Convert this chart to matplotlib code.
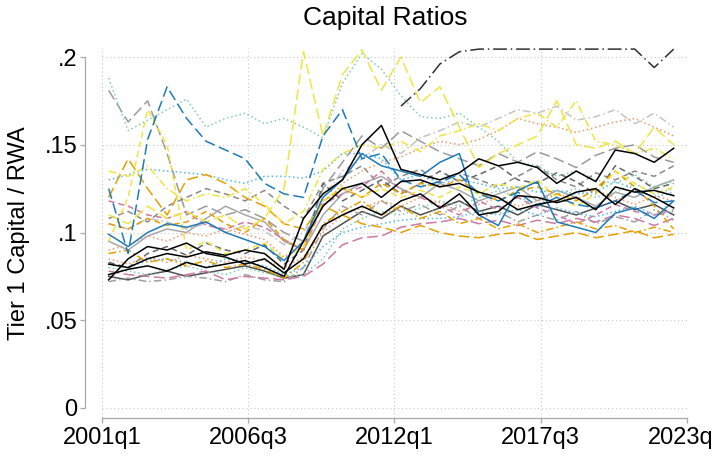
import matplotlib

matplotlib.use("Agg")  # headless backend: render straight to files

import matplotlib.pyplot as plt  # noqa: E402
import numpy as np  # noqa: E402

plt.rcParams["font.family"] = ["Liberation Sans", "DejaVu Sans"]

# quarter index (0 = 2001q1); each bank sampled about every third quarter,
# from 2001q2 to 2022q3
quarters = np.linspace(1, 86, 30)
x_ticks = [0, 22, 44, 66, 88]
x_tick_labels = ["2001q1", "2006q3", "2012q1", "2017q3", "2023q1"]
y_ticks = [0, 0.05, 0.10, 0.15, 0.20]
y_tick_labels = ["0", ".05", ".1", ".15", ".2"]

nan = np.nan

# Tier 1 capital / RWA per bank, in percent
black_a = [8.2, 8.0, 8.5, 8.8, 8.6, 8.9, 8.7, 9.0, 8.8, 7.9,
           10.8, 12.2, 13.0, 15.0, 16.1, 13.6, 13.3, 13.0, 13.4, 14.2,
           13.8, 14.0, 13.7, 12.8, 13.5, 12.9, 14.7, 14.5, 14.0, 14.8]
black_b = [7.6, 7.9, 8.1, 7.8, 8.3, 8.0, 8.2, 8.4, 8.0, 7.5,
           9.5, 11.5, 12.5, 12.8, 12.0, 12.9, 13.0, 12.6, 12.8, 12.3,
           12.0, 11.3, 11.6, 11.8, 12.3, 12.5, 11.6, 12.5, 12.0, 11.4]
black_c = [7.3, 8.5, 9.2, 9.0, 9.4, 8.8, 8.6, 8.2, 8.5, 7.7,
           8.5, 10.4, 11.0, 11.5, 11.0, 11.8, 12.2, 11.4, 12.2, 11.0,
           11.2, 12.1, 12.0, 11.7, 12.0, 11.3, 12.6, 12.3, 12.4, 12.1]
# capped at the top of the plot region where the ratio runs off the scale
black_top = [nan, nan, nan, nan, nan, nan, nan, nan, nan, nan,
             nan, nan, nan, nan, nan, 17.2, 18.2, 19.6, 20.3, 20.45,
             20.45, 20.45, 20.45, 20.45, 20.45, 20.45, 20.45, 20.45, 19.4, 20.45]
grey_a = [18.1, 16.3, 17.5, 14.5, 11.0, 11.5, 11.0, 11.3, 10.8, 10.0,
          9.5, 12.5, 14.0, 15.5, 14.8, 15.8, 15.2, 14.6, 14.2, 13.8,
          14.5, 14.0, 14.6, 14.2, 13.7, 14.4, 14.8, 15.0, 14.3, 14.0]
grey_b = [10.5, 10.2, 10.8, 10.6, 10.2, 10.5, 10.0, 10.4, 10.1, 9.3,
          10.0, 12.0, 13.5, 14.2, 15.0, 14.5, 15.4, 15.8, 16.3, 16.0,
          16.5, 17.0, 16.8, 17.2, 16.4, 16.6, 17.0, 16.2, 16.8, 16.0]
grey_c = [10.8, 11.2, 10.6, 11.5, 12.0, 12.5, 12.2, 11.8, 12.4, 11.5,
          10.8, 12.8, 13.2, 13.8, 12.6, 13.2, 13.6, 12.8, 13.4, 13.0,
          12.6, 13.2, 13.8, 13.0, 12.6, 13.4, 13.0, 13.5, 13.2, 13.8]
grey_d = [9.5, 9.0, 9.8, 10.2, 10.0, 10.8, 11.5, 11.0, 10.6, 9.5,
          9.0, 11.0, 12.2, 12.8, 13.2, 12.5, 12.0, 12.8, 12.4, 11.8,
          12.2, 12.6, 11.8, 12.4, 12.0, 11.5, 12.3, 12.0, 12.6, 13.0]
grey_e = [7.5, 7.3, 7.6, 7.8, 7.5, 7.7, 7.9, 8.1, 7.8, 7.4,
          7.6, 9.8, 10.5, 11.2, 10.8, 11.5, 11.0, 11.4, 11.8, 11.2,
          11.5, 11.0, 11.6, 11.3, 11.0, 11.4, 11.8, 11.3, 11.6, 11.0]
grey_f = [8.3, 8.0, 8.8, 9.2, 8.7, 9.4, 9.0, 8.8, 9.3, 8.2,
          9.0, 12.8, 11.8, 12.4, 13.0, 12.2, 12.8, 13.5, 12.9, 13.3,
          13.8, 13.0, 12.8, 13.4, 12.9, 12.2, 13.8, 13.2, 12.5, 12.8]
grey_g = [7.2, 7.4, 7.2, 7.3, 7.5, 7.4, 7.2, 7.6, 7.3, 7.2,
          8.0, 10.2, 11.5, 11.0, 11.8, 11.2, 11.6, 11.0, 11.5, 10.8,
          11.2, 10.6, 11.0, 10.7, 11.2, 10.5, 10.9, 10.6, 11.3, 10.7]
blue_a = [12.5, 8.8, 15.3, 18.3, 16.5, 15.2, 14.7, 14.2, 12.8, 12.2,
          12.0, 15.5, 17.0, 14.2, 14.5, 13.0, 12.6, 12.9, 13.3, 12.2,
          11.8, 12.3, 11.5, 12.0, 11.6, 11.4, 11.8, 12.4, 11.7, 11.8]
blue_b = [9.9, 9.2, 10.0, 10.5, 10.3, 10.6, 10.0, 9.6, 9.2, 8.4,
          9.5, 12.0, 13.0, 14.5, 13.8, 13.5, 13.2, 14.0, 14.5, 11.0,
          10.4, 12.4, 12.9, 10.6, 10.3, 10.0, 11.1, 11.4, 10.8, 11.8]
sky_a = [13.0, 13.3, 13.6, 13.5, 13.4, 13.3, 13.0, 12.8, 13.2, 13.2,
         13.1, 13.5, 14.5, 14.5, 14.2, 13.0, 13.3, 12.8, 13.0, 12.8,
         12.5, 12.6, 12.3, 12.4, 12.2, 12.3, 12.9, 12.5, 12.0, 12.3]
sky_b = [8.2, 8.0, 8.4, 8.5, 8.3, 8.0, 8.5, 8.3, 8.1, 7.6,
         8.0, 9.2, 10.0, 10.3, 10.5, 10.7, 10.8, 10.8, 10.9, 11.2,
         11.0, 11.3, 11.0, 11.4, 11.1, 10.9, 11.2, 11.5, 11.0, 11.2]
orange_a = [12.0, 14.2, 12.5, 11.0, 13.0, 13.3, 12.8, 12.0, 11.5, 10.5,
            10.2, 11.5, 11.0, 10.5, 10.3, 10.0, 10.4, 10.0, 9.8, 9.7,
            9.9, 10.0, 9.6, 9.8, 10.0, 9.7, 9.9, 10.1, 9.7, 9.9]
orange_b = [10.5, 10.2, 10.8, 10.4, 10.6, 11.2, 10.5, 10.0, 10.8, 9.6,
            9.0, 11.8, 12.5, 12.0, 12.8, 12.2, 12.8, 12.6, 13.0, 12.3,
            11.8, 12.4, 12.6, 12.2, 11.8, 12.5, 13.5, 12.6, 11.5, 10.2]
orange_c = [8.8, 9.0, 8.3, 8.5, 8.1, 8.4, 8.0, 8.2, 7.9, 7.4,
            8.3, 10.5, 11.2, 11.8, 11.0, 11.5, 10.8, 11.2, 10.5, 10.8,
            10.2, 10.5, 10.0, 10.3, 10.6, 10.2, 10.4, 10.0, 10.3, 10.0]
red_a = [9.0, 9.3, 9.8, 9.5, 10.0, 9.8, 10.2, 9.9, 9.6, 8.6,
         9.5, 11.5, 12.8, 13.5, 14.0, 14.3, 14.8, 15.2, 15.0, 15.3,
         15.8, 16.5, 16.2, 16.0, 15.7, 16.0, 16.3, 16.5, 16.0, 15.5]
red_b = [8.5, 8.2, 8.6, 8.3, 8.7, 8.5, 8.3, 8.6, 8.4, 8.0,
         8.6, 10.0, 11.0, 11.4, 11.8, 11.5, 12.0, 11.7, 11.2, 11.6,
         12.0, 11.5, 11.8, 12.2, 11.9, 12.4, 12.0, 11.6, 12.1, 11.8]
pink_a = [11.8, 11.5, 11.0, 10.8, 11.2, 10.4, 10.2, 10.6, 10.3, 9.6,
          9.0, 11.6, 12.2, 12.6, 13.5, 12.4, 12.0, 11.5, 11.0, 11.8,
          11.3, 12.0, 11.4, 11.0, 10.5, 11.0, 11.6, 11.2, 11.0, 11.3]
pink_b = [7.8, 7.6, 7.5, 7.4, 7.6, 7.8, 7.3, 7.5, 7.4, 7.3,
          7.5, 8.2, 9.3, 9.7, 9.8, 10.3, 10.5, 10.6, 10.8, 10.5,
          10.7, 10.4, 10.7, 10.5, 10.8, 10.6, 11.0, 10.8, 10.4, 10.8]
green_a = [18.8, 15.8, 16.4, 17.0, 17.6, 16.0, 16.5, 16.8, 16.2, 16.5,
           16.0, 15.4, 18.5, 20.2, 19.3, 17.8, 16.6, 16.5, 16.8, 16.0,
           15.2, 14.0, 13.8, 13.2, 13.5, 13.0, 12.8, 13.3, 12.6, 12.9]
green_b = [8.0, 7.8, 7.6, 7.9, 8.1, 7.8, 7.6, 8.0, 7.7, 7.5,
           7.6, 8.5, 10.2, 10.8, 11.2, 11.0, 11.4, 11.8, 11.5, 12.0,
           12.4, 12.0, 11.6, 12.2, 12.5, 12.0, 12.3, 12.8, 12.2, 12.5]
yellow_a = [9.5, 12.0, 17.0, 15.0, 9.0, 9.5, 8.8, 9.0, 9.4, 8.5,
            9.2, 11.8, 12.6, 12.0, 12.5, 12.0, 12.4, 12.0, 12.6, 12.2,
            12.8, 12.5, 13.0, 12.0, 11.5, 12.2, 13.5, 12.8, 12.2, 12.6]
yellow_b = [11.0, 10.5, 11.5, 10.8, 11.2, 10.6, 11.0, 10.2, 10.8, 12.5,
            20.3, 15.5, 19.0, 20.4, 18.1, 20.0, 17.4, 18.3, 16.0, 13.7,
            14.5, 15.0, 15.5, 17.5, 15.0, 14.8, 15.2, 14.5, 16.0, 15.0]
yellow_c = [13.5, 13.2, 13.8, 12.5, 11.8, 12.2, 12.0, 12.5, 11.6, 10.5,
            11.2, 13.6, 14.5, 15.0, 14.8, 15.2, 14.6, 15.5, 15.8, 16.2,
            15.8, 16.5, 16.8, 16.0, 17.5, 15.2, 15.0, 14.5, 14.8, 14.2]

# line patterns (in units of line width), Stata-like
SOLID = "-"
DASH = (0, (4, 2.5))
LONGDASH = (0, (7, 3))
DOT = (0, (1, 1.8))
DASHDOT = (0, (5, 2, 1, 2))
LONGDASHDOT = (0, (9, 2.5, 1, 2.5))

styles = [
    (grey_a, "#9a9a9a", LONGDASH),
    (grey_b, "#c4c4c4", DASHDOT),
    (grey_c, "#8a8a8a", DASH),
    (grey_d, "#a8a8a8", SOLID),
    (grey_e, "#505050", SOLID),
    (grey_f, "#666666", DASH),
    (grey_g, "#a0a0a0", DASHDOT),
    (green_a, "#7fcdb0", DOT),
    (green_b, "#7fcdb0", DOT),
    (red_a, "#ef9a6a", DOT),
    (red_b, "#ef9a6a", DOT),
    (sky_a, "#56b4e9", DOT),
    (sky_b, "#56b4e9", DOT),
    (pink_a, "#cc79a7", DASH),
    (pink_b, "#cc79a7", LONGDASH),
    (orange_a, "#e69f00", LONGDASH),
    (orange_b, "#e69f00", DASH),
    (orange_c, "#e69f00", DASHDOT),
    (yellow_a, "#f0e442", DASH),
    (yellow_b, "#f0e442", LONGDASH),
    (yellow_c, "#f0e442", DASHDOT),
    (blue_a, "#1f7ab8", LONGDASH),
    (blue_b, "#1f7ab8", SOLID),
    (black_top, "#303030", LONGDASHDOT),
    (black_c, "#000000", SOLID),
    (black_b, "#000000", SOLID),
    (black_a, "#000000", SOLID),
]

fig = plt.figure(figsize=(7.14, 4.57), dpi=100)
ax = fig.add_axes([102 / 714, 1 - 418 / 457, 585 / 714, 370 / 457])

for values, color, ls in styles:
    ax.plot(quarters, np.array(values) / 100, color=color, linestyle=ls,
            linewidth=1.1)

ax.set_xlim(0, 88)
ax.set_ylim(-10 / 1755, 0.2 + 9 / 1755)

axis_grey = "#a8a8a8"
for side in ("top", "right"):
    ax.spines[side].set_visible(False)
ax.spines["left"].set_position(("outward", 12))
ax.spines["left"].set_bounds(0, 0.2)
ax.spines["bottom"].set_bounds(0, 88)
for side in ("left", "bottom"):
    ax.spines[side].set_color(axis_grey)
    ax.spines[side].set_linewidth(0.9)

ax.set_xticks(x_ticks)
ax.set_xticklabels(x_tick_labels)
ax.set_yticks(y_ticks)
ax.set_yticklabels(y_tick_labels)
ax.tick_params(axis="both", color=axis_grey, length=3.6, width=0.9,
               labelsize=17, labelcolor="black")
ax.tick_params(axis="x", pad=3)
ax.tick_params(axis="y", pad=2)

ax.grid(True, linestyle=(0, (1, 2.5)), color="#c8c8c8", linewidth=0.8)
ax.set_axisbelow(True)

ax.set_ylabel("Tier 1 Capital / RWA", fontsize=17)
ax.yaxis.set_label_coords(-72 / 585, 0.5)

fig.text(385 / 714, 1 - 18 / 457, "Capital Ratios", fontsize=19,
         ha="center", va="center")

fig.savefig("out.png", dpi=100)
plt.close(fig)
